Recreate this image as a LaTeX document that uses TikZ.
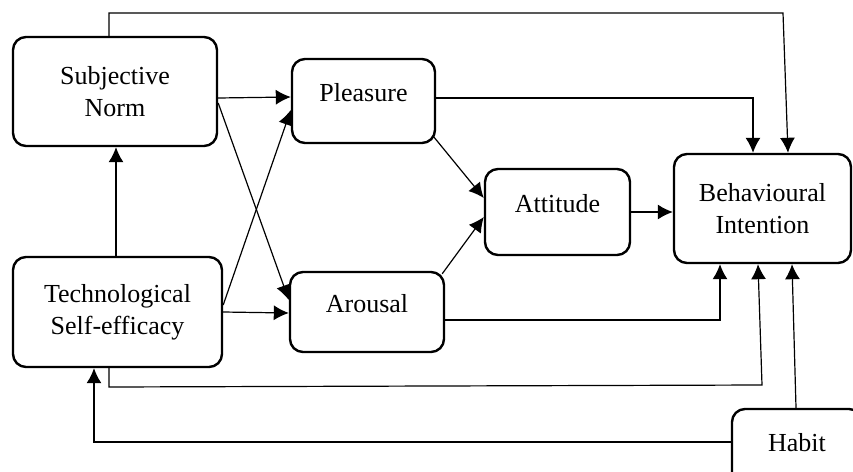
\documentclass[tikz,border=0pt]{standalone}
\usepackage{fontspec}
\setmainfont{Liberation Serif}
\usetikzlibrary{arrows.meta,positioning}
\tikzset{blk/.style={draw, line width=2.4pt, rounded corners=13pt, align=center, inner sep=0pt, font=\fontsize{26}{32}\selectfont}}
\tikzset{upper/.style={text height=18pt, text depth=18pt}}
\tikzset{conn/.style={line width=1.2pt, -{Latex[length=15pt,width=15pt]}}}

\begin{document}
\begin{tikzpicture}[x=1pt,y=-1pt]
\clip (0,0) rectangle (853,471);

\node[blk, minimum width=204pt, minimum height=109pt] (sn) at (115,91.5) {Subjective\\Norm};
\node[blk, minimum width=209pt, minimum height=110pt] (tse) at (117.5,312) {Technological\\Self-efficacy};
\node[blk, upper, minimum width=143pt, minimum height=84pt] (pl) at (363.5,101) {Pleasure};
\node[blk, upper, minimum width=154pt, minimum height=80pt] (ar) at (367,312) {Arousal};
\node[blk, upper, minimum width=145pt, minimum height=86pt] (att) at (557.5,212) {Attitude};
\node[blk, minimum width=177pt, minimum height=109pt] (bi) at (762.5,208.5) {Behavioural\\Intention};
\node[blk, upper, minimum width=130pt, minimum height=84pt] (hab) at (797,451) {Habit};

% crossing arrows
\draw[conn] (sn.east |- 0,98) -- (pl.west |- 0,97);
\draw[conn] (sn.east |- 0,103) -- (ar.west |- 0,300);
\draw[conn] (tse.east |- 0,305) -- (pl.west |- 0,110);
\draw[conn] (tse.east |- 0,312) -- (ar.west |- 0,313);
\draw[conn] (tse.north -| 116,0) -- (sn.south -| 116,0);

\draw[conn] ([shift={(-3,-8)}]pl.south east) -- (att.west |- 0,198);
\draw[conn] ([shift={(-3,3)}]ar.north east) -- (att.west |- 0,217);
\draw[conn] (att.east |- 0,212) -- (bi.west |- 0,212);

% long lines into intention
\draw[conn] (pl.east |- 0,98) -| (bi.north -| 753,0);
\draw[conn] (sn.north -| 109,0) -- (109,13) -- (783,13) -- (bi.north -| 788,0);
\draw[conn] (ar.east |- 0,320) -| (bi.south -| 720,0);
\draw[conn] (tse.south -| 109,0) -- (109,387) -- (762,385) -- (bi.south -| 758,0);
\draw[conn] (hab.north -| 796,0) -- (bi.south -| 792,0);
\draw[conn] (hab.west |- 0,442) -| (tse.south -| 94,0);

\end{tikzpicture}
\end{document}
